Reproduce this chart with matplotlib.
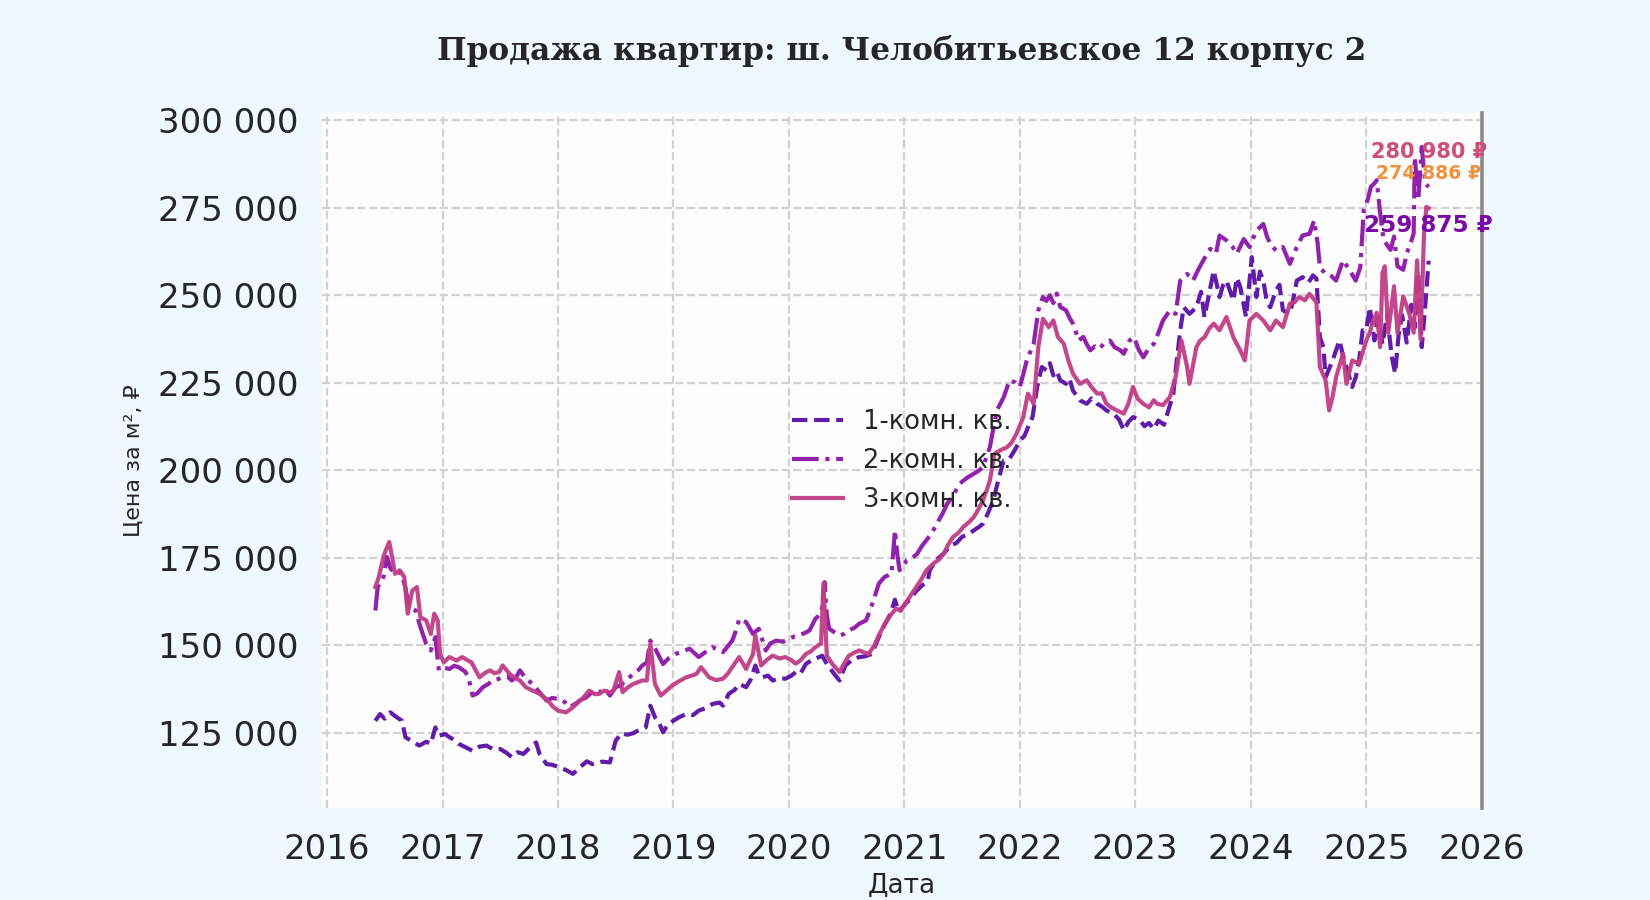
import numpy as np
import pandas as pd
import matplotlib
matplotlib.use("Agg")
import matplotlib.pyplot as plt
import matplotlib.dates as mdates
from matplotlib.ticker import FuncFormatter, MultipleLocator

# Данные: дата в долях года, цена за м²
t1 = [2016.42, 2016.46, 2016.50, 2016.55, 2016.60, 2016.65, 2016.68, 2016.74, 2016.80, 2016.86,
      2016.90, 2016.94, 2016.97, 2017.02, 2017.06, 2017.10, 2017.14, 2017.20, 2017.26, 2017.32,
      2017.38, 2017.44, 2017.50, 2017.55, 2017.60, 2017.65, 2017.70, 2017.75, 2017.81, 2017.84,
      2017.90, 2017.95, 2018.01, 2018.07, 2018.13, 2018.19, 2018.25, 2018.30, 2018.38, 2018.45,
      2018.50, 2018.55, 2018.60, 2018.65, 2018.70, 2018.76, 2018.80, 2018.84, 2018.88, 2018.91,
      2018.95, 2018.98, 2019.05, 2019.11, 2019.17, 2019.22, 2019.28, 2019.34, 2019.40, 2019.43,
      2019.48, 2019.53, 2019.57, 2019.63, 2019.67, 2019.71, 2019.74, 2019.77, 2019.82, 2019.86,
      2019.92, 2019.97, 2020.02, 2020.06, 2020.10, 2020.15, 2020.19, 2020.23, 2020.29, 2020.32,
      2020.35, 2020.40, 2020.44, 2020.49, 2020.55, 2020.61, 2020.66, 2020.72, 2020.78, 2020.83,
      2020.88, 2020.92, 2020.95, 2021.00, 2021.05, 2021.10, 2021.15, 2021.20, 2021.22, 2021.28,
      2021.34, 2021.40, 2021.45, 2021.50, 2021.55, 2021.60, 2021.65, 2021.68, 2021.72, 2021.77,
      2021.81, 2021.86, 2021.91, 2021.96, 2022.00, 2022.04, 2022.08, 2022.11, 2022.15, 2022.19,
      2022.23, 2022.26, 2022.29, 2022.32, 2022.35, 2022.40, 2022.43, 2022.46, 2022.52, 2022.58,
      2022.62, 2022.67, 2022.71, 2022.75, 2022.81, 2022.86, 2022.90, 2022.94, 2022.98, 2023.04,
      2023.08, 2023.12, 2023.16, 2023.20, 2023.25, 2023.30, 2023.33, 2023.36, 2023.39, 2023.42,
      2023.47, 2023.53, 2023.57, 2023.60, 2023.64, 2023.68, 2023.73, 2023.76, 2023.79, 2023.85,
      2023.88, 2023.91, 2023.96, 2024.01, 2024.05, 2024.08, 2024.11, 2024.14, 2024.17, 2024.22,
      2024.25, 2024.28, 2024.34, 2024.37, 2024.40, 2024.45, 2024.50, 2024.54, 2024.57, 2024.60,
      2024.63, 2024.65, 2024.71, 2024.77, 2024.80, 2024.83, 2024.88, 2024.91, 2024.94, 2024.97,
      2025.00, 2025.03, 2025.07, 2025.10, 2025.14, 2025.18, 2025.22, 2025.25, 2025.28, 2025.31,
      2025.35, 2025.39, 2025.42, 2025.45, 2025.48, 2025.51, 2025.54]
v1 = [128400, 130300, 129000, 130800, 129500, 128400, 123700, 122500, 121300, 122400,
      121800, 126500, 124100, 124600, 123700, 122900, 121800, 120800, 119800, 121000,
      121300, 120200, 120300, 119300, 118000, 119400, 118900, 120500, 122200, 118900,
      116000, 115800, 115100, 114300, 113200, 115100, 116800, 116000, 116700, 116500,
      122700, 124800, 124400, 124800, 125700, 126500, 132700, 129400, 127500, 125100,
      127200, 128000, 129400, 130300, 130000, 131300, 132000, 133200, 133600, 132700,
      136100, 137200, 138900, 138000, 140200, 144200, 141400, 140800, 141300, 139900,
      140600, 140400, 141200, 142300, 141800, 144700, 145500, 146100, 147000, 145200,
      143700, 141500, 139900, 144200, 145800, 146600, 146800, 147500, 152300, 155800,
      158900, 163000, 159500, 161500, 163200, 165400, 167000, 168200, 171500, 174500,
      176200, 178500, 179200, 181000, 181600, 182800, 183900, 184700, 187500, 191400,
      196800, 202800, 203300, 206000, 208500, 209800, 213000, 215200, 223800, 229500,
      228600, 230600, 227100, 228300, 225700, 224700, 226200, 222800, 220000, 219000,
      220500, 219000, 218200, 217100, 216200, 214500, 211400, 213800, 215200, 214300,
      212600, 213500, 211800, 214200, 213000, 218500, 221900, 231400, 240000, 246600,
      244700, 246600, 251000, 243800, 250500, 257100, 249500, 252800, 254200, 248500,
      255000, 252300, 243800, 260900, 249500, 256800, 254200, 248200, 246600, 251400,
      253000, 245700, 244700, 249000, 254200, 255200, 253600, 255700, 254800, 238000,
      235200, 226600, 231400, 237100, 232800, 229500, 223800, 226500, 231400, 240000,
      240000, 246600, 237100, 243800, 236000, 244500, 232500, 227700, 238800, 244300,
      236500, 247300, 240800, 256300, 235200, 246900, 259875]

t2 = [2016.42, 2016.44, 2016.49, 2016.52, 2016.55, 2016.59, 2016.64, 2016.68, 2016.71, 2016.77,
      2016.81, 2016.86, 2016.90, 2016.94, 2016.97, 2017.02, 2017.06, 2017.10, 2017.14, 2017.20,
      2017.23, 2017.26, 2017.30, 2017.35, 2017.40, 2017.43, 2017.48, 2017.52, 2017.56, 2017.60,
      2017.64, 2017.67, 2017.72, 2017.78, 2017.84, 2017.90, 2017.95, 2018.01, 2018.06, 2018.10,
      2018.15, 2018.19, 2018.24, 2018.28, 2018.32, 2018.36, 2018.40, 2018.45, 2018.50, 2018.54,
      2018.58, 2018.62, 2018.65, 2018.70, 2018.73, 2018.77, 2018.80, 2018.85, 2018.91, 2018.96,
      2019.02, 2019.08, 2019.14, 2019.18, 2019.22, 2019.28, 2019.34, 2019.43, 2019.47, 2019.51,
      2019.55, 2019.57, 2019.63, 2019.69, 2019.74, 2019.80, 2019.84, 2019.89, 2019.95, 2020.00,
      2020.05, 2020.09, 2020.14, 2020.18, 2020.23, 2020.27, 2020.29, 2020.31, 2020.33, 2020.35,
      2020.40, 2020.44, 2020.48, 2020.52, 2020.57, 2020.61, 2020.67, 2020.72, 2020.78, 2020.83,
      2020.89, 2020.92, 2020.94, 2020.96, 2021.02, 2021.07, 2021.11, 2021.15, 2021.19, 2021.24,
      2021.28, 2021.33, 2021.37, 2021.42, 2021.48, 2021.54, 2021.60, 2021.64, 2021.68, 2021.74,
      2021.77, 2021.80, 2021.86, 2021.91, 2021.96, 2022.00, 2022.03, 2022.06, 2022.12, 2022.16,
      2022.20, 2022.23, 2022.26, 2022.29, 2022.32, 2022.35, 2022.40, 2022.43, 2022.46, 2022.51,
      2022.55, 2022.58, 2022.61, 2022.65, 2022.69, 2022.73, 2022.78, 2022.82, 2022.87, 2022.90,
      2022.95, 2022.99, 2023.03, 2023.07, 2023.12, 2023.16, 2023.20, 2023.24, 2023.30, 2023.35,
      2023.39, 2023.45, 2023.50, 2023.55, 2023.59, 2023.65, 2023.70, 2023.73, 2023.79, 2023.84,
      2023.88, 2023.94, 2023.99, 2024.05, 2024.11, 2024.14, 2024.17, 2024.22, 2024.28, 2024.34,
      2024.40, 2024.45, 2024.51, 2024.55, 2024.58, 2024.60, 2024.65, 2024.70, 2024.74, 2024.80,
      2024.86, 2024.91, 2024.95, 2024.98, 2025.01, 2025.04, 2025.07, 2025.09, 2025.12, 2025.15,
      2025.21, 2025.24, 2025.27, 2025.32, 2025.35, 2025.38, 2025.41, 2025.42, 2025.45, 2025.48,
      2025.51, 2025.54]
v2 = [159900, 166600, 169500, 175200, 172000, 170400, 170800, 166500, 160900, 159900,
      155200, 150400, 148500, 152300, 142800, 143500, 143200, 144100, 143700, 142300,
      139900, 135600, 136200, 138000, 139000, 139900, 140300, 140800, 141100, 139900,
      141000, 142800, 140500, 138900, 136500, 134200, 134900, 134600, 133700, 132300,
      133200, 134200, 135000, 136100, 137300, 136500, 137800, 135600, 138000, 138500,
      139600, 140800, 141800, 143000, 144200, 145000, 151300, 148500, 144600, 146300,
      147500, 148200, 149000, 147800, 146600, 148100, 149400, 148000, 149600, 151300,
      154800, 157500, 156600, 153200, 154700, 148500, 150500, 151300, 151000, 151800,
      152500, 152800, 153500, 154200, 157500, 158800, 160900, 168000, 158500, 154700,
      153600, 152800, 153200, 154200, 155000, 156100, 157100, 161400, 167600, 169500,
      170400, 182800, 176000, 171400, 174200, 175000, 176100, 178300, 180000, 182200,
      184700, 187600, 190400, 192800, 196200, 197800, 199000, 199800, 200900, 206600,
      212000, 217100, 220900, 225700, 225100, 223800, 227500, 231400, 236200, 245700,
      249500, 248400, 250000, 247800, 250500, 246700, 245700, 243600, 241900, 237100,
      238100, 236000, 234300, 235400, 234700, 236300, 237100, 235200, 234300, 233300,
      237100, 238000, 234500, 232300, 235000, 236100, 239200, 242800, 245700, 244700,
      254200, 256100, 254200, 257600, 260000, 263300, 262000, 267100, 265700, 264000,
      261900, 266100, 263800, 268500, 270400, 267000, 264700, 262800, 263800, 259000,
      263800, 267100, 267600, 271400, 265000, 258000, 256100, 255500, 254200, 260000,
      257100, 254200, 258000, 274400, 277100, 281000, 282000, 282900, 273400, 265800,
      263000, 266800, 258300, 257300, 262000, 264500, 267700, 289600, 277200, 292400,
      282000, 280980]

t3 = [2016.42, 2016.45, 2016.49, 2016.51, 2016.54, 2016.56, 2016.59, 2016.63, 2016.67, 2016.70,
      2016.74, 2016.78, 2016.81, 2016.86, 2016.90, 2016.93, 2016.96, 2016.98, 2017.01, 2017.06,
      2017.12, 2017.17, 2017.21, 2017.25, 2017.32, 2017.36, 2017.41, 2017.45, 2017.49, 2017.52,
      2017.58, 2017.63, 2017.67, 2017.72, 2017.78, 2017.84, 2017.90, 2017.96, 2018.00, 2018.04,
      2018.07, 2018.12, 2018.16, 2018.22, 2018.27, 2018.32, 2018.36, 2018.40, 2018.45, 2018.48,
      2018.53, 2018.56, 2018.60, 2018.65, 2018.70, 2018.73, 2018.77, 2018.80, 2018.84, 2018.89,
      2018.94, 2018.99, 2019.05, 2019.11, 2019.16, 2019.20, 2019.24, 2019.31, 2019.37, 2019.43,
      2019.47, 2019.51, 2019.57, 2019.63, 2019.69, 2019.71, 2019.76, 2019.81, 2019.86, 2019.92,
      2019.97, 2020.02, 2020.06, 2020.10, 2020.15, 2020.19, 2020.23, 2020.28, 2020.30, 2020.33,
      2020.38, 2020.44, 2020.48, 2020.52, 2020.57, 2020.61, 2020.65, 2020.69, 2020.74, 2020.78,
      2020.83, 2020.88, 2020.93, 2020.97, 2021.00, 2021.05, 2021.10, 2021.15, 2021.19, 2021.25,
      2021.30, 2021.34, 2021.38, 2021.42, 2021.47, 2021.51, 2021.56, 2021.60, 2021.64, 2021.68,
      2021.71, 2021.74, 2021.78, 2021.83, 2021.89, 2021.93, 2021.97, 2022.03, 2022.07, 2022.12,
      2022.16, 2022.20, 2022.25, 2022.29, 2022.33, 2022.38, 2022.42, 2022.46, 2022.52, 2022.58,
      2022.62, 2022.67, 2022.71, 2022.75, 2022.79, 2022.84, 2022.90, 2022.94, 2022.98, 2023.02,
      2023.07, 2023.12, 2023.16, 2023.19, 2023.24, 2023.30, 2023.35, 2023.40, 2023.45, 2023.47,
      2023.53, 2023.56, 2023.60, 2023.64, 2023.68, 2023.73, 2023.79, 2023.85, 2023.91, 2023.95,
      2023.99, 2024.05, 2024.11, 2024.17, 2024.22, 2024.28, 2024.34, 2024.38, 2024.42, 2024.47,
      2024.51, 2024.57, 2024.60, 2024.65, 2024.68, 2024.71, 2024.74, 2024.80, 2024.83, 2024.88,
      2024.94, 2025.00, 2025.03, 2025.06, 2025.09, 2025.12, 2025.14, 2025.16, 2025.19, 2025.24,
      2025.27, 2025.32, 2025.37, 2025.41, 2025.44, 2025.47, 2025.50, 2025.52, 2025.54]
v3 = [166600, 169500, 175200, 177100, 179500, 176100, 170400, 171400, 169500, 159000,
      165600, 166600, 158000, 157100, 153200, 159000, 157100, 147500, 145100, 146600,
      145600, 146600, 145800, 145100, 140800, 141900, 142800, 142000, 142300, 144200,
      141800, 140600, 139900, 138000, 137000, 136100, 134600, 132300, 131300, 131000,
      130800, 132000, 133200, 135000, 137000, 136000, 136100, 137000, 136500, 137000,
      142300, 136600, 137800, 138900, 139500, 139900, 139900, 150400, 138900, 135600,
      137000, 138500, 139700, 140800, 141300, 141800, 143700, 140800, 140000, 140400,
      141800, 143700, 146600, 143200, 147500, 152800, 144200, 145800, 147000, 146200,
      146600, 145800, 144700, 145600, 147500, 148200, 149400, 150500, 167600, 147000,
      144500, 142300, 144800, 147000, 147900, 148500, 148000, 147500, 149800, 152800,
      156000, 158500, 160500, 159800, 161500, 164000, 166500, 169000, 171400, 173300,
      174500, 176100, 178800, 180900, 182200, 183800, 185200, 186600, 188800, 191400,
      194000, 197100, 204700, 205700, 206600, 208000, 210400, 215200, 221900, 219000,
      235200, 243300, 240900, 242800, 238100, 236200, 231400, 227600, 224700, 225700,
      223800, 221900, 222000, 219000, 218000, 217100, 216200, 219000, 223800, 220500,
      219000, 218000, 220000, 219000, 218600, 220900, 226600, 237100, 229500, 224700,
      235200, 237000, 238000, 240500, 241900, 240000, 243800, 238000, 234200, 231400,
      242800, 244700, 242800, 240000, 242800, 240900, 247600, 248000, 249500, 248600,
      250400, 248000, 229500, 225700, 217100, 221000, 226600, 233300, 224700, 231400,
      230400, 237100, 239300, 242800, 245000, 235200, 256400, 258300, 239300, 252600,
      239300, 249700, 245000, 239300, 260000, 237400, 267700, 275300, 274886]

labels = ["1-комн. кв.", "2-комн. кв.", "3-комн. кв."]
colors = ["#5b0ea6", "#8c16a8", "#c03d86"]
styles = ["--", "-.", "-"]

# подписи последних значений
note_vals = [280980, 274886, 259875]
note_colors = ["#cf4d79", "#f0913e", "#7a0aa6"]
note_sizes = [15, 13.6, 16.7]


def to_dates(years):
    out = []
    for y in years:
        base = int(y)
        out.append(pd.Timestamp(base, 1, 1) + pd.Timedelta(days=(y - base) * 365.25))
    return out


fig = plt.figure(figsize=(16.5, 9), dpi=100, facecolor="#f0f8ff")
ax = fig.add_axes([0.195, 0.102, 0.703, 0.772])
ax.set_facecolor("#fdfdfe")

series = [(t1, v1), (t2, v2), (t3, v3)]
for (t, v), lab, c, ls in zip(series, labels, colors, styles):
    ax.plot(to_dates(t), v, linestyle=ls, color=c, lw=3.0, alpha=0.95, label=lab)

last_date = to_dates([2025.54])[0]
for val, c, fs in zip(note_vals, note_colors, note_sizes):
    ax.text(last_date, val + 10000, f"{val:,}".replace(",", " ") + " ₽",
            color=c, fontsize=fs, fontweight="bold", ha="center", va="center")

ax.set_xlim(to_dates([2015.955])[0], to_dates([2026.0])[0])
ax.set_ylim(103400, 302000)
ax.xaxis.set_major_locator(mdates.YearLocator())
ax.xaxis.set_major_formatter(mdates.DateFormatter("%Y"))
ax.yaxis.set_major_locator(MultipleLocator(25000))
ax.yaxis.set_major_formatter(FuncFormatter(lambda x, p: f"{int(x):,}".replace(",", " ")))

ax.grid(True, linestyle="--", color="#d2d2d2", lw=1.6)
ax.set_axisbelow(True)
for s in ["left", "top", "bottom"]:
    ax.spines[s].set_visible(False)
ax.spines["right"].set_color("#8a8a8a")
ax.spines["right"].set_linewidth(2.6)

ax.tick_params(axis="both", length=0, labelsize=24.5, labelcolor="#262626")
ax.tick_params(axis="y", pad=17)
ax.tick_params(axis="x", pad=18)

ax.set_xlabel("Дата", fontsize=19, color="#262626")
ax.xaxis.set_label_coords(0.5, -0.092)
ax.set_ylabel("Цена за м², ₽", fontsize=16, color="#262626")
ax.yaxis.set_label_coords(-0.153, 0.5)

fig.text(0.5465, 0.943, "Продажа квартир: ш. Челобитьевское 12 корпус 2",
         family="DejaVu Serif", fontweight="bold", fontsize=22.5, color="#262626",
         ha="center", va="center")

leg = ax.legend(loc="center", frameon=False, fontsize=18.5, handlelength=2.0,
                labelcolor="#262626")

fig.savefig("out.png", dpi=100, facecolor=fig.get_facecolor())
